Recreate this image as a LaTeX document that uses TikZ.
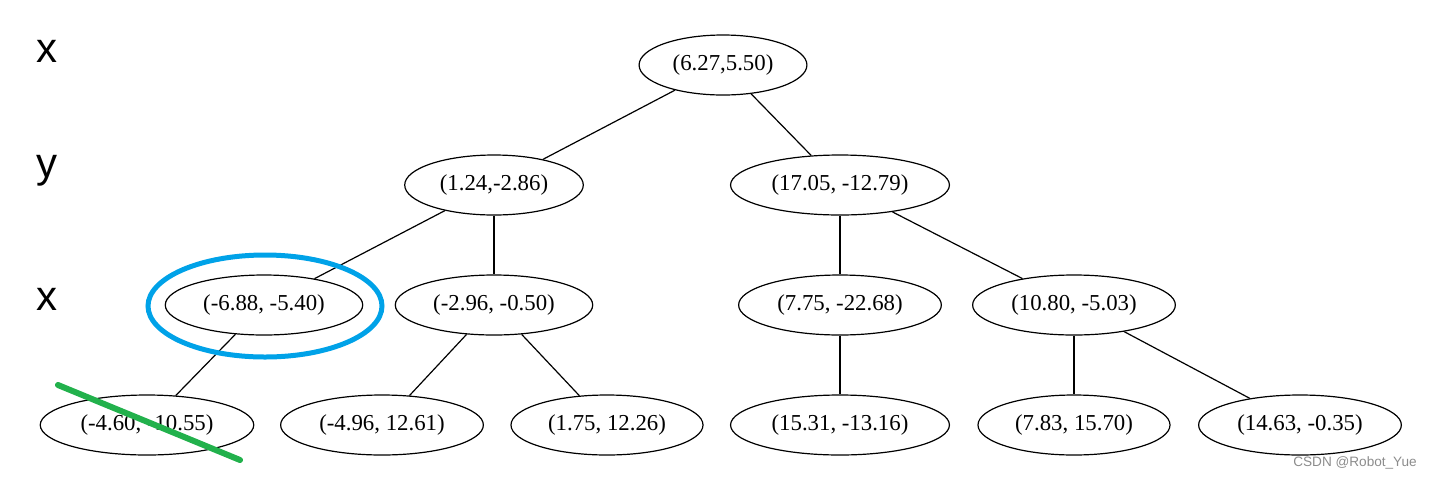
\documentclass[tikz,border=0pt]{standalone}
\usepackage{fontspec}
\setmainfont{Liberation Serif}
\newfontfamily\labelfont{Liberation Sans}
\usetikzlibrary{shapes.geometric}
\definecolor{ringblue}{RGB}{0,162,232}
\definecolor{crossgreen}{RGB}{34,177,76}

\begin{document}
\begin{tikzpicture}[x=0.5pt,y=-0.5pt,
  kd/.style={draw,ellipse,line width=0.6pt,inner xsep=4.5pt,inner ysep=1pt,minimum height=30pt,font=\fontsize{11.4}{13}\selectfont},
  depthlabel/.style={anchor=base,font=\labelfont\fontsize{21}{24}\selectfont},
  treeedge/.style={line width=0.6pt}]
\useasboundingbox (0,0) rectangle (1432,478);
\node[depthlabel] (dx1) at (47.5,62) {x};
\node[depthlabel] (dy) at (47.5,177) {y};
\node[depthlabel] (dx2) at (47.5,310) {x};
\node[kd] (root) at (723,65) {(6.27,5.50)};
\node[kd] (l) at (494,185) {(1.24,-2.86)};
\node[kd] (r) at (840,185) {(17.05, -12.79)};
\node[kd] (ll) at (264,305) {(-6.88, -5.40)};
\node[kd] (lr) at (494,305) {(-2.96, -0.50)};
\node[kd] (rl) at (840,305) {(7.75, -22.68)};
\node[kd] (rr) at (1074,305) {(10.80, -5.03)};
\node[kd] (lll) at (147,425) {(-4.60, -10.55)};
\node[kd] (lrl) at (382,425) {(-4.96, 12.61)};
\node[kd] (lrr) at (607,425) {(1.75, 12.26)};
\node[kd] (rll) at (840,425) {(15.31, -13.16)};
\node[kd] (rrl) at (1074,425) {(7.83, 15.70)};
\node[kd] (rrr) at (1300,425) {(14.63, -0.35)};
\draw[treeedge] (root) -- (l);
\draw[treeedge] (root) -- (r);
\draw[treeedge] (l) -- (ll);
\draw[treeedge] (l) -- (lr);
\draw[treeedge] (r) -- (rl);
\draw[treeedge] (r) -- (rr);
\draw[treeedge] (ll) -- (lll);
\draw[treeedge] (lr) -- (lrl);
\draw[treeedge] (lr) -- (lrr);
\draw[treeedge] (rl) -- (rll);
\draw[treeedge] (rr) -- (rrl);
\draw[treeedge] (rr) -- (rrr);
\draw[ringblue,line width=2.5pt] (265,306) ellipse [x radius=58.5pt,y radius=25.5pt];
\draw[crossgreen,line width=3pt,line cap=round] (58,385) -- (240,460);
\node[anchor=base,text=black!45,font=\labelfont\fontsize{6.8}{8}\selectfont] (mark) at (1355,466) {CSDN @Robot\_Yue};
\end{tikzpicture}
\end{document}
